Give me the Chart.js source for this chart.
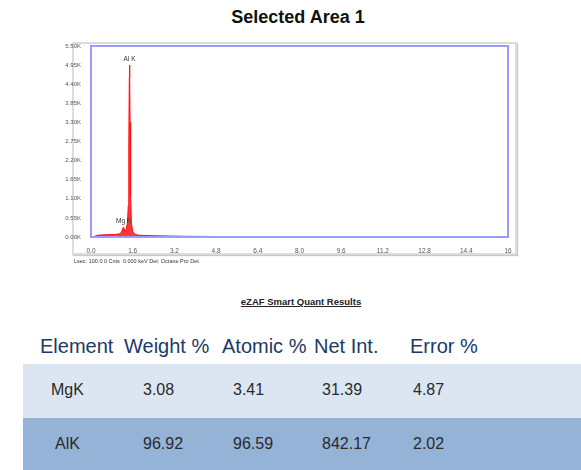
<!DOCTYPE html>
<html>
<head>
<meta charset="utf-8">
<script src="https://cdn.jsdelivr.net/npm/chart.js@4/dist/chart.umd.min.js"></script>
<style>
  html, body { margin: 0; padding: 0; background: #fff; }
  body { width: 581px; height: 470px; position: relative; overflow: hidden;
         font-family: "Liberation Sans", Arial, sans-serif; }
  #title { position: absolute; left: 0; width: 596px; top: 7px; text-align: center;
           font-weight: bold; font-size: 18px; color: #111; }
  #frame { position: absolute; left: 72px; top: 42px; width: 441px; height: 209px;
           border: 2px solid #dcdcdc; box-shadow: 1px 1px 1px #c8c8c8; }
  #spec { position: absolute; left: 60px; top: 38px; }
  #stats { position: absolute; left: 74px; top: 258px; font-size: 5.5px; color: #333; white-space: nowrap; }
  #quant { position: absolute; left: 0; width: 602px; top: 296px; text-align: center;
           font-weight: bold; font-size: 9.5px; text-decoration: underline; color: #222; }
  .hdr { position: absolute; top: 335px; font-size: 20px; color: #1b3a66; white-space: nowrap; }
  .row { position: absolute; left: 23px; width: 558px; }
  .cell { position: absolute; font-size: 16px; color: #2a2a2a; white-space: nowrap; }
</style>
</head>
<body>
<div id="title">Selected Area 1</div>
<div id="frame"></div>
<canvas id="spec" width="470" height="225" style="width:470px;height:225px"></canvas>
<div id="stats">Lsec: 100.0 0 Cnts &nbsp;0.000 keV Det: Octane Pro Det</div>
<div id="quant">eZAF Smart Quant Results</div>
<div id="table"></div>

<script>
// EDS spectrum: energy (keV) and counts
const energyKeV = [0.10, 0.20, 0.30, 0.40, 0.50, 0.60, 0.70, 0.80, 0.90, 1.00,
                   1.10, 1.15, 1.20, 1.23, 1.25, 1.27, 1.30, 1.35, 1.40, 1.43,
                   1.45, 1.47, 1.48, 1.49, 1.50, 1.52, 1.55, 1.60, 1.70, 1.80,
                   2.00, 2.50, 3.00, 3.50, 4.00, 4.50, 5.00, 6.00, 8.00, 10.0,
                   12.0, 14.0, 16.0];
const counts = [5, 40, 55, 60, 62, 65, 68, 70, 75, 80,
                95, 120, 200, 270, 285, 220, 150, 210, 430, 900,
                2600, 4600, 4950, 4700, 3300, 1200, 400, 150, 70, 55,
                45, 35, 28, 22, 18, 14, 10, 8, 5, 4,
                3, 2, 2];

// Peak identifications
const peakLabels = ["Mg K", "Al K"];
const peakEnergy = [1.25, 1.48];
const peakCounts = [285, 4950];

// Axis ticks
const yTicks = [0, 550, 1100, 1650, 2200, 2750, 3300, 3850, 4400, 4950, 5500];
const xTicks = [0, 1.6, 3.2, 4.8, 6.4, 8.0, 9.6, 11.2, 12.8, 14.4, 16];

// Quantification table
const tableHeaders = ["Element", "Weight %", "Atomic %", "Net Int.", "Error %"];
const elements = ["MgK", "AlK"];
const weightPct = ["3.08", "96.92"];
const atomicPct = ["3.41", "96.59"];
const netInt = ["31.39", "842.17"];
const errorPct = ["4.87", "2.02"];

// ---- table ----
const table = document.getElementById('table');
const hdrX = [40, 124, 222, 314, 410];
tableHeaders.forEach((h, i) => {
  const d = document.createElement('div');
  d.className = 'hdr'; d.style.left = hdrX[i] + 'px'; d.textContent = h;
  table.appendChild(d);
});
const rowTop = [364, 418], rowH = [54, 52], rowBg = ['#dce6f2', '#95b3d7'];
const cellX = [[51, 55], [143, 143], [233, 233], [322, 322], [413, 413]];
const cols = [elements, weightPct, atomicPct, netInt, errorPct];
elements.forEach((_, r) => {
  const row = document.createElement('div');
  row.className = 'row';
  row.style.top = rowTop[r] + 'px'; row.style.height = rowH[r] + 'px';
  row.style.background = rowBg[r];
  table.appendChild(row);
  cols.forEach((col, c) => {
    const d = document.createElement('div');
    d.className = 'cell';
    d.style.left = cellX[c][r] + 'px';
    d.style.top = (rowTop[r] + 17) + 'px';
    d.textContent = col[r];
    table.appendChild(d);
  });
});

// ---- spectrum chart ----
const plotBorder = {
  id: 'plotBorder',
  afterDatasetsDraw(chart) {
    const { ctx, chartArea: a } = chart;
    ctx.save();
    ctx.strokeStyle = '#9a9aff';
    ctx.lineWidth = 2;
    ctx.strokeRect(a.left, a.top, a.right - a.left, a.bottom - a.top);
    ctx.restore();
  }
};
const peakTags = {
  id: 'peakTags',
  afterDatasetsDraw(chart) {
    const { ctx, scales } = chart;
    ctx.save();
    ctx.font = '6.5px "Liberation Sans", Arial, sans-serif';
    ctx.fillStyle = '#333';
    ctx.textAlign = 'center';
    ctx.textBaseline = 'bottom';
    peakLabels.forEach((lab, i) => {
      const x = scales.x.getPixelForValue(peakEnergy[i]);
      const y = scales.y.getPixelForValue(peakCounts[i]);
      ctx.fillText(lab, x, y - 3);
    });
    ctx.restore();
  }
};

new Chart(document.getElementById('spec'), {
  type: 'line',
  data: {
    datasets: [{
      data: energyKeV.map((e, i) => ({ x: e, y: counts[i] })),
      borderColor: '#ff1010',
      backgroundColor: 'rgba(255,20,20,0.85)',
      borderWidth: 1,
      fill: 'origin',
      pointRadius: 0,
      tension: 0
    }]
  },
  options: {
    responsive: false,
    animation: false,
    layout: { padding: { top: 8, right: 22, left: 0, bottom: 0 } },
    plugins: { legend: { display: false }, tooltip: { enabled: false } },
    scales: {
      x: {
        type: 'linear', min: 0, max: 16,
        grid: { display: false },
        border: { display: false },
        afterBuildTicks(s) { s.ticks = xTicks.map(v => ({ value: v })); },
        afterFit(s) { s.height = 26; },
        ticks: {
          font: { size: 6.5, family: '"Liberation Sans", Arial, sans-serif' },
          color: '#555', padding: 2, maxRotation: 0, autoSkip: false,
          callback: v => (v === 16 ? '16' : Number(v).toFixed(1))
        }
      },
      y: {
        min: 0, max: 5500,
        grid: { display: false },
        border: { display: false },
        afterBuildTicks(s) { s.ticks = yTicks.map(v => ({ value: v })); },
        afterFit(s) { s.width = 31; },
        ticks: {
          font: { size: 6, family: '"Liberation Sans", Arial, sans-serif' },
          color: '#555', padding: 2, autoSkip: false,
          callback: v => (v / 1000).toFixed(2) + 'K'
        }
      }
    }
  },
  plugins: [plotBorder, peakTags]
});
</script>
</body>
</html>
